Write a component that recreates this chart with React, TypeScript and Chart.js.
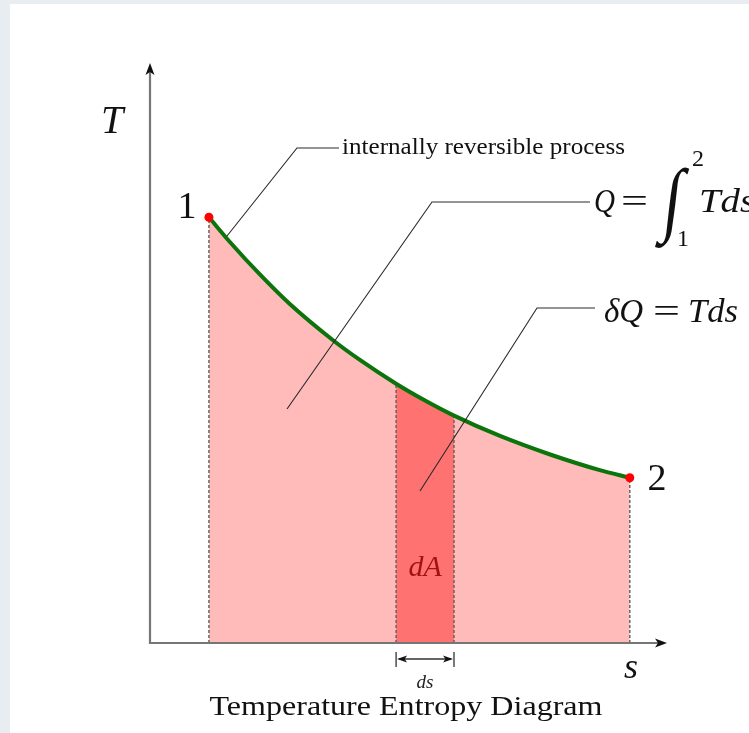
import React, { useEffect, useRef } from "react";
import { Chart, registerables } from "chart.js";

Chart.register(...registerables);

// Process curve from state 1 to state 2: entropy s and temperature T
const entropy = [1.14, 1.55, 2.13, 2.71, 3.54, 4.06, 4.76, 5.32, 5.88, 6.77, 7.74, 8.7, 9.28];
const temperature = [7.34, 6.91, 6.35, 5.84, 5.22, 4.88, 4.47, 4.18, 3.92, 3.57, 3.25, 2.98, 2.85];

// Infinitesimal strip ds under the curve
const stripStart = 4.76;
const stripEnd = 5.88;

const stateNames = ["1", "2"];
const xAxisName = "s";
const yAxisName = "T";
const stripName = "dA";
const widthName = "ds";
const processNote = "internally reversible process";
const chartTitle = "Temperature Entropy Diagram";

const SERIF = '"Liberation Serif", "Times New Roman", serif';

const curve = entropy.map((s, i) => ({ x: s, y: temperature[i] }));
const tempAt = (s: number) => temperature[entropy.indexOf(s)];
const strip = curve.filter((p) => p.x >= stripStart && p.x <= stripEnd);
const ends = [curve[0], curve[curve.length - 1]];

const dropLine = (s: number) => ({
  type: "line" as const,
  data: [
    { x: s, y: 0 },
    { x: s, y: tempAt(s) },
  ],
  borderColor: "#666666",
  borderWidth: 1.5,
  borderDash: [3, 2],
  pointRadius: 0,
  fill: false,
  order: 3,
});

function arrowHead(ctx: CanvasRenderingContext2D, x: number, y: number, angle: number, len = 12, half = 4.5) {
  ctx.save();
  ctx.translate(x, y);
  ctx.rotate(angle);
  ctx.beginPath();
  ctx.moveTo(0, 0);
  ctx.lineTo(-len, -half);
  ctx.lineTo(-len * 0.75, 0);
  ctx.lineTo(-len, half);
  ctx.closePath();
  ctx.fillStyle = "#111";
  ctx.fill();
  ctx.restore();
}

function text(
  ctx: CanvasRenderingContext2D,
  str: string,
  x: number,
  y: number,
  font: string,
  color = "#111",
  align: CanvasTextAlign = "left",
  fitWidth?: number,
  skew = 0
) {
  ctx.save();
  ctx.font = font;
  ctx.fillStyle = color;
  ctx.textBaseline = "alphabetic";
  ctx.textAlign = align;
  ctx.translate(x, y);
  if (fitWidth) {
    const w = ctx.measureText(str).width;
    ctx.scale(fitWidth / w, 1);
  }
  if (skew) ctx.transform(1, 0, -skew, 1, 0, 0);
  ctx.fillText(str, 0, 0);
  ctx.restore();
  ctx.font = font;
  return ctx.measureText(str).width;
}

function polyline(ctx: CanvasRenderingContext2D, pts: number[][]) {
  ctx.save();
  ctx.strokeStyle = "#2a2a2a";
  ctx.lineWidth = 1.1;
  ctx.beginPath();
  ctx.moveTo(pts[0][0], pts[0][1]);
  for (let i = 1; i < pts.length; i++) ctx.lineTo(pts[i][0], pts[i][1]);
  ctx.stroke();
  ctx.restore();
}

const pagePlugin = {
  id: "page",
  beforeDraw(chart: Chart) {
    const { ctx, width, height } = chart;
    ctx.save();
    ctx.fillStyle = "#e8edf2";
    ctx.fillRect(0, 0, width, height);
    ctx.fillStyle = "#ffffff";
    ctx.fillRect(10, 4, width - 10, height - 4);
    ctx.restore();
  },
};

const diagramPlugin = {
  id: "diagram",
  afterDatasetsDraw(chart: Chart) {
    const { ctx, chartArea } = chart;
    const xs = chart.scales.x;
    const ys = chart.scales.y;
    const x0 = xs.getPixelForValue(0);
    const y0 = ys.getPixelForValue(0);

    // axes with arrow tips
    ctx.save();
    ctx.strokeStyle = "#767676";
    ctx.lineWidth = 2.2;
    ctx.beginPath();
    ctx.moveTo(x0, chartArea.top + 6);
    ctx.lineTo(x0, y0);
    ctx.lineTo(chartArea.right - 6, y0);
    ctx.stroke();
    ctx.restore();
    arrowHead(ctx, x0, chartArea.top, -Math.PI / 2);
    arrowHead(ctx, chartArea.right, y0, 0);

    // axis names and state numbers
    text(ctx, yAxisName, 112, 133, `italic 40px ${SERIF}`, "#111", "center");
    text(ctx, xAxisName, 631, 678, `italic 36px ${SERIF}`, "#111", "center");
    text(ctx, stateNames[0], 187, 218, `38px ${SERIF}`, "#111", "center");
    text(ctx, stateNames[1], 657, 490, `38px ${SERIF}`, "#111", "center");

    // strip label and its width dimension
    const xa = xs.getPixelForValue(stripStart);
    const xb = xs.getPixelForValue(stripEnd);
    const xm = (xa + xb) / 2;
    text(ctx, stripName, xm, 576, `italic 30px ${SERIF}`, "#a31212", "center");
    ctx.save();
    ctx.strokeStyle = "#333";
    ctx.lineWidth = 1.3;
    ctx.beginPath();
    ctx.moveTo(xa, 652);
    ctx.lineTo(xa, 667);
    ctx.moveTo(xb, 652);
    ctx.lineTo(xb, 667);
    ctx.moveTo(xa + 3, 659);
    ctx.lineTo(xb - 3, 659);
    ctx.stroke();
    ctx.restore();
    arrowHead(ctx, xa + 1, 659, Math.PI, 10, 3.5);
    arrowHead(ctx, xb - 1, 659, 0, 10, 3.5);
    text(ctx, widthName, xm, 688, `italic 19px ${SERIF}`, "#222", "center");

    // leader lines and notes
    polyline(ctx, [
      [227, 236],
      [297, 148],
      [339, 148],
    ]);
    text(ctx, processNote, 342, 154, `24px ${SERIF}`, "#111", "left", 283);

    polyline(ctx, [
      [287, 409],
      [432, 202],
      [590, 202],
    ]);
    text(ctx, "Q", 594, 212, `italic 33px ${SERIF}`, "#111", "left", 21);
    text(ctx, "=", 621, 212, `33px ${SERIF}`, "#111", "left", 27);
    text(ctx, "\u222B", 661, 226, `82px ${SERIF}`, "#111", "left", 18, 0.15);
    text(ctx, "2", 692, 166, `24px ${SERIF}`);
    text(ctx, "1", 677, 246, `24px ${SERIF}`);
    text(ctx, "Tds", 699, 212, `italic 33px ${SERIF}`, "#111", "left", 56);

    polyline(ctx, [
      [420, 491],
      [537, 308],
      [595, 308],
    ]);
    let dx = 604;
    dx += text(ctx, "\u03B4", dx, 322, `italic 33px ${SERIF}`);
    text(ctx, "Q", dx, 322, `italic 33px ${SERIF}`);
    text(ctx, "=", 653, 322, `33px ${SERIF}`, "#111", "left", 27);
    text(ctx, "Tds", 688, 322, `italic 33px ${SERIF}`, "#111", "left", 50);

    // title
    text(ctx, chartTitle, 406, 715, `28px ${SERIF}`, "#111", "center", 393);
  },
};

export default function App() {
  const canvasRef = useRef<HTMLCanvasElement | null>(null);

  useEffect(() => {
    const canvas = canvasRef.current;
    if (!canvas) return;
    const chart = new Chart(canvas, {
      type: "line",
      data: {
        datasets: [
          {
            data: curve,
            borderWidth: 0,
            borderColor: "rgba(0,0,0,0)",
            backgroundColor: "#ffbaba",
            fill: "origin",
            pointRadius: 0,
            cubicInterpolationMode: "monotone",
            order: 5,
          },
          {
            data: strip,
            borderWidth: 0,
            borderColor: "rgba(0,0,0,0)",
            backgroundColor: "#ff7272",
            fill: "origin",
            pointRadius: 0,
            cubicInterpolationMode: "monotone",
            order: 4,
          },
          dropLine(entropy[0]),
          dropLine(stripStart),
          dropLine(stripEnd),
          dropLine(entropy[entropy.length - 1]),
          {
            data: curve,
            borderWidth: 4,
            borderColor: "#0b740b",
            fill: false,
            pointRadius: 0,
            cubicInterpolationMode: "monotone",
            order: 2,
          },
          {
            data: ends,
            showLine: false,
            pointRadius: 4.5,
            pointBackgroundColor: "#ff0000",
            pointBorderWidth: 0,
            order: 1,
          },
        ],
      },
      options: {
        animation: false,
        responsive: false,
        devicePixelRatio: 1,
        layout: { padding: { left: 150, top: 63, right: 82, bottom: 90 } },
        scales: {
          x: { type: "linear", min: 0, max: 10, display: false },
          y: { type: "linear", min: 0, max: 10, display: false },
        },
        plugins: {
          legend: { display: false },
          tooltip: { enabled: false },
          title: { display: false },
        },
        events: [],
      },
      plugins: [pagePlugin, diagramPlugin],
    });
    return () => chart.destroy();
  }, []);

  return (
    <div style={{ position: "absolute", left: 0, top: 0, width: 749, height: 733 }}>
      <canvas ref={canvasRef} width={749} height={733} style={{ display: "block" }} />
    </div>
  );
}
